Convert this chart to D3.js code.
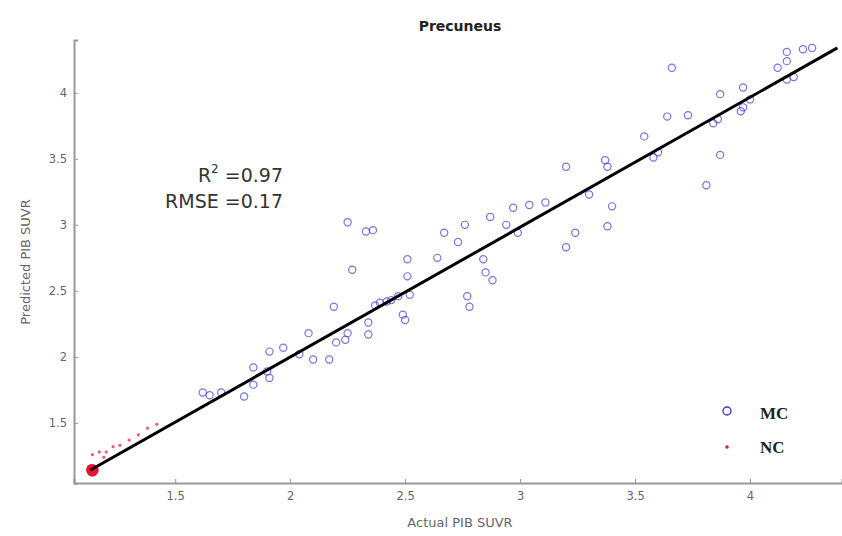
<!DOCTYPE html>
<html><head><meta charset="utf-8">
<script src="https://cdn.jsdelivr.net/npm/d3@7/dist/d3.min.js"></script>
<style>body{margin:0;background:#fff}svg{display:block}</style>
</head><body><svg id="c" width="842" height="536"></svg>
<script>
// MC group: actual / predicted
const mcActual = [1.62,1.65,1.70,1.80,1.84,1.84,1.90,1.91,1.91,1.97,2.04,2.08,2.10,2.17,2.20,2.24,2.19,2.25,2.34,2.34,2.37,2.39,2.42,2.44,2.47,2.49,2.50,2.52,2.51,2.51,2.27,2.25,2.33,2.36,2.64,2.67,2.73,2.76,2.77,2.78,2.84,2.85,2.88,2.87,2.94,2.99,2.97,3.04,3.11,3.20,3.24,3.20,3.30,3.37,3.38,3.40,3.38,3.54,3.58,3.60,3.64,3.73,3.66,3.81,3.87,3.84,3.86,3.87,3.96,3.97,4.00,3.97,4.12,4.16,4.16,4.23,4.27,4.19,4.16];
const mcPred   = [1.73,1.71,1.73,1.70,1.79,1.92,1.89,1.84,2.04,2.07,2.02,2.18,1.98,1.98,2.11,2.13,2.38,2.18,2.26,2.17,2.39,2.41,2.42,2.43,2.46,2.32,2.28,2.47,2.61,2.74,2.66,3.02,2.95,2.96,2.75,2.94,2.87,3.00,2.46,2.38,2.74,2.64,2.58,3.06,3.00,2.94,3.13,3.15,3.17,2.83,2.94,3.44,3.23,3.49,3.44,3.14,2.99,3.67,3.51,3.55,3.82,3.83,4.19,3.30,3.53,3.77,3.80,3.99,3.86,3.89,3.95,4.04,4.19,4.24,4.31,4.33,4.34,4.12,4.10];
// NC group
const ncActual = [1.135,1.14,1.145,1.14,1.135,1.14,1.145,1.14,1.138,1.142,1.14,1.14,1.17,1.19,1.23,1.30,1.34,1.38,1.42,1.20,1.26];
const ncPred   = [1.14,1.135,1.145,1.15,1.15,1.14,1.14,1.13,1.145,1.145,1.145,1.26,1.28,1.24,1.32,1.37,1.41,1.46,1.49,1.28,1.33];
const xTicks = [1.5,2,2.5,3,3.5,4];
const yTicks = [1.5,2,2.5,3,3.5,4];
const fitLine = [[1.13,1.142],[4.38,4.34]];
const statsText = ["RMSE =0.17"];

const svg = d3.select("#c");
const x = d3.scaleLinear().domain([1.06,4.40]).range([74,842]);
const y = d3.scaleLinear().domain([1.045,4.40]).range([483,40]);

// points MC
svg.append("g").selectAll("circle").data(mcActual.map((d,i)=>[d,mcPred[i]])).join("circle")
  .attr("cx",d=>x(d[0])).attr("cy",d=>y(d[1])).attr("r",3.6)
  .attr("fill","none").attr("stroke","#3a3ad0").attr("stroke-opacity",0.7).attr("stroke-width",1.2);

// NC points
svg.append("g").selectAll("circle").data(ncActual.map((d,i)=>[d,ncPred[i]])).join("circle")
  .attr("cx",d=>x(d[0])).attr("cy",d=>y(d[1])).attr("r",(d,i)=>i<11?5:1.6)
  .attr("fill","#ee1133").attr("fill-opacity",(d,i)=>i<11?0.9:0.7);

// fit line
svg.append("path").attr("d",d3.line().x(d=>x(d[0])).y(d=>y(d[1]))(fitLine))
  .attr("stroke","#000").attr("stroke-width",3).attr("fill","none");

// axes
const ax = svg.append("g").attr("transform","translate(0,483)")
  .call(d3.axisBottom(x).tickValues(xTicks).tickFormat(d3.format("")).tickSize(-4).tickPadding(9));
const ay = svg.append("g").attr("transform","translate(74,0)")
  .call(d3.axisLeft(y).tickValues(yTicks).tickFormat(d3.format("")).tickSize(-4).tickPadding(7));
[ax,ay].forEach(g=>{
  g.select(".domain").attr("stroke","#999").attr("stroke-width",2);
  g.selectAll(".tick line").attr("stroke","#999");
  g.selectAll(".tick text").attr("fill","#666").attr("font-family","DejaVu Sans, sans-serif").attr("font-size",11.5);
});

// title & labels
svg.append("text").attr("x",460).attr("y",31).attr("text-anchor","middle")
  .attr("font-family","DejaVu Sans, sans-serif").attr("font-weight","bold").attr("font-size",14).attr("fill","#222").text("Precuneus");
svg.append("text").attr("x",460).attr("y",527).attr("text-anchor","middle")
  .attr("font-family","DejaVu Sans, sans-serif").attr("font-size",13).attr("fill","#666").text("Actual PIB SUVR");
svg.append("text").attr("transform","translate(30,262) rotate(-90)").attr("text-anchor","middle")
  .attr("font-family","DejaVu Sans, sans-serif").attr("font-size",13).attr("fill","#666").text("Predicted PIB SUVR");

// stats text
const r2 = svg.append("text").attr("x",283).attr("y",182).attr("text-anchor","end")
  .attr("font-family","DejaVu Sans, sans-serif").attr("font-size",19).attr("fill","#333");
r2.append("tspan").text("R");
r2.append("tspan").attr("dy",-9).attr("font-size",12).text("2");
r2.append("tspan").attr("dy",9).text(" =0.97");
svg.append("text").attr("x",283).attr("y",208).attr("text-anchor","end")
  .attr("font-family","DejaVu Sans, sans-serif").attr("font-size",19).attr("fill","#333").text(statsText[0]);

// legend
svg.append("circle").attr("cx",727).attr("cy",411).attr("r",4).attr("fill","none").attr("stroke","#3a3ad0").attr("stroke-width",1.4);
svg.append("circle").attr("cx",727).attr("cy",447).attr("r",1.8).attr("fill","#cc2244");
svg.append("text").attr("x",760).attr("y",419).attr("font-family","Liberation Serif, serif").attr("font-weight","bold").attr("font-size",17).attr("fill","#222").text("MC");
svg.append("text").attr("x",760).attr("y",453).attr("font-family","Liberation Serif, serif").attr("font-weight","bold").attr("font-size",17).attr("fill","#222").text("NC");
</script></body></html>
